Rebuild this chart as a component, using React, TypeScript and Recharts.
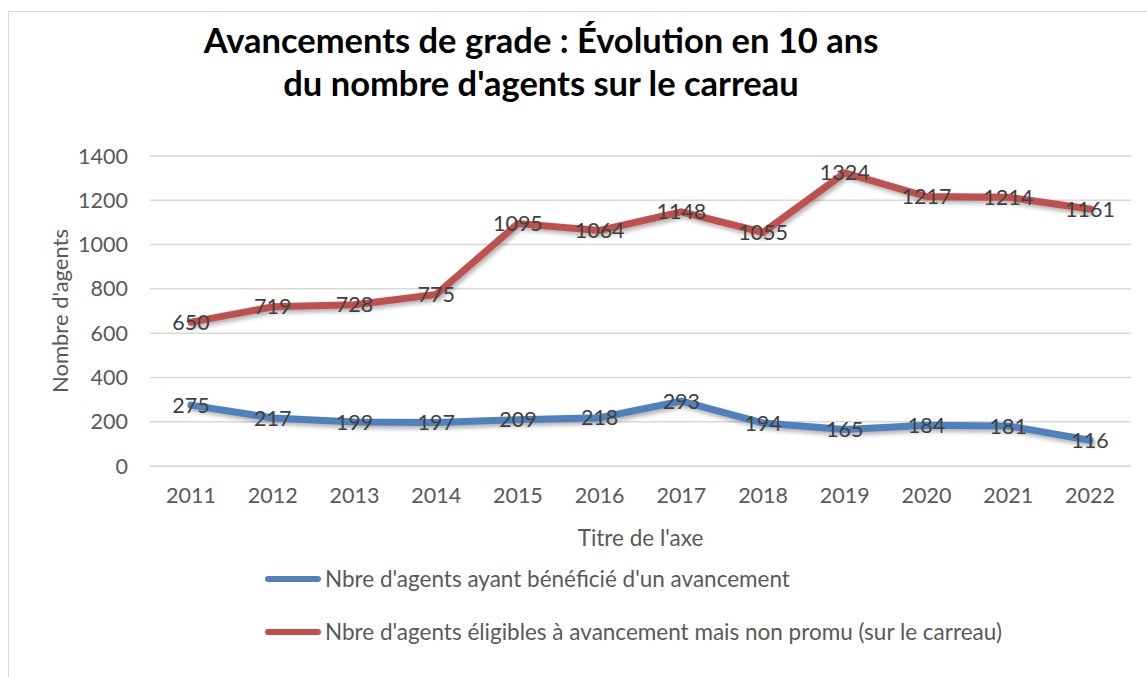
import React from 'react';
import { LineChart, Line, XAxis, YAxis, CartesianGrid, LabelList } from 'recharts';

const years = ['2011','2012','2013','2014','2015','2016','2017','2018','2019','2020','2021','2022'];
const avances = [275, 217, 199, 197, 209, 218, 293, 194, 165, 184, 181, 116];
const carreau = [650, 719, 728, 775, 1095, 1064, 1148, 1055, 1324, 1217, 1214, 1161];
const yTicks = [0, 200, 400, 600, 800, 1000, 1200, 1400];
const seriesNames = [
  "Nbre d'agents ayant bénéficié d'un avancement",
  "Nbre d'agents éligibles à avancement mais non promu (sur le carreau)",
];
const colors = ['#4F81BD', '#C0504D'];

const data = years.map((y, i) => ({ year: y, a: avances[i], b: carreau[i] }));

const FONT = 'Lato, "Open Sans", sans-serif';
const GRAY = '#595959';

export default function App() {
  return (
    <div style={{ position: 'absolute', left: 0, top: 0, width: 1147, height: 677, background: '#fff', overflow: 'hidden' }}>
      <style>{`.recharts-line-curve{filter:drop-shadow(2px 3px 2px rgba(0,0,0,0.3));}`}</style>
      <div style={{ position: 'absolute', left: 8, top: 11, width: 1160, height: 700, border: '1px solid #d9d9d9' }} />
      <div style={{ position: 'absolute', left: 0, top: 18, width: 1082, textAlign: 'center', fontFamily: FONT, fontWeight: 700, fontSize: 34.5, lineHeight: '43px', color: '#000' }}>
        Avancements de grade : Évolution en 10 ans<br />du nombre d'agents sur le carreau
      </div>
      <div style={{ position: 'absolute', left: 0, top: 0 }}>
        <LineChart width={1147} height={677} data={data} margin={{ top: 156, right: 16, bottom: 131, left: 0 }}>
          <CartesianGrid vertical={false} stroke="#d9d9d9" strokeWidth={1.5} />
          <XAxis
            dataKey="year"
            padding={{ left: 41, right: 41 }}
            axisLine={{ stroke: '#d9d9d9', strokeWidth: 1.5 }}
            tickLine={false}
            tickMargin={16}
            height={80}
            tick={{ fill: GRAY, fontSize: 21.5, fontFamily: FONT }}
            label={{ value: "Titre de l'axe", position: 'insideBottom', offset: 0, fill: GRAY, fontSize: 22.5, fontFamily: FONT }}
          />
          <YAxis
            width={150}
            domain={[0, 1400]}
            ticks={yTicks}
            axisLine={false}
            tickLine={false}
            tickMargin={16}
            tick={{ fill: GRAY, fontSize: 21.5, fontFamily: FONT }}
            label={{ value: "Nombre d'agents", angle: -90, position: 'center', dx: -15, fill: GRAY, fontSize: 22, fontFamily: FONT }}
          />
          <Line dataKey="a" name={seriesNames[0]} stroke={colors[0]} strokeWidth={7} dot={false} isAnimationActive={false} strokeLinecap="round">
            <LabelList dataKey="a" position="center" fill="#404040" fontSize={21.5} fontFamily={FONT} />
          </Line>
          <Line dataKey="b" name={seriesNames[1]} stroke={colors[1]} strokeWidth={7} dot={false} isAnimationActive={false} strokeLinecap="round">
            <LabelList dataKey="b" position="center" fill="#404040" fontSize={21.5} fontFamily={FONT} />
          </Line>
        </LineChart>
      </div>
      <div style={{ position: 'absolute', left: 265, top: 552, fontFamily: FONT, fontSize: 22.5, color: GRAY }}>
        {seriesNames.map((n, i) => (
          <div key={n} style={{ display: 'flex', alignItems: 'center', height: 53 }}>
            <span style={{ display: 'inline-block', width: 56, height: 6, borderRadius: 3, background: colors[i], marginRight: 4 }} />
            <span>{n}</span>
          </div>
        ))}
      </div>
    </div>
  );
}
